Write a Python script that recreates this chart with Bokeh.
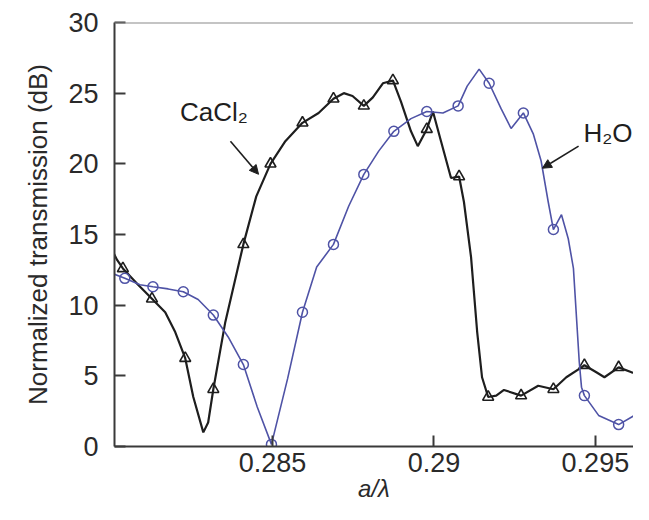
from bokeh.plotting import figure
from bokeh.models import Range1d, FixedTicker, Arrow, NormalHead, Label, Span
from bokeh.embed import file_html
from bokeh.resources import INLINE

# ---------------- data ----------------
# CaCl2 curve (black)
cacl2_x = [0.28009, 0.28019, 0.28037, 0.28084, 0.28127, 0.28168, 0.28199, 0.28230,
           0.28255, 0.28286, 0.28301, 0.28317, 0.28354, 0.28410, 0.28450, 0.28494,
           0.28540, 0.28593, 0.28643, 0.28689, 0.28721, 0.28748, 0.28783, 0.28811,
           0.28842, 0.28873, 0.28898, 0.28929, 0.28950, 0.28978, 0.28997, 0.29022,
           0.29053, 0.29078, 0.29093, 0.29115, 0.29134, 0.29149, 0.29168, 0.29193,
           0.29217, 0.29270, 0.29323, 0.29370, 0.29410, 0.29457, 0.29466, 0.29503,
           0.29528, 0.29572, 0.29612, 0.29659]
cacl2_y = [13.65, 13.2, 12.6, 11.45, 10.45, 9.5, 8.1, 6.25,
           3.5, 1.0, 1.7, 4.05, 8.8, 14.3, 17.7, 20.0,
           21.6, 22.9, 23.6, 24.6, 25.0, 24.8, 24.1, 24.7,
           25.7, 25.9, 24.4, 22.3, 21.25, 22.45, 23.7, 21.6,
           19.0, 19.1, 17.3, 13.4, 8.1, 4.9, 3.5, 3.6,
           4.0, 3.6, 4.3, 4.05, 4.9, 5.6, 5.75, 5.25,
           4.9, 5.6, 5.25, 5.05]
cacl2_mx = [0.28037, 0.28127, 0.28230, 0.28317, 0.28410, 0.28494, 0.28593, 0.28689,
            0.28783, 0.28873, 0.28978, 0.29078, 0.29168, 0.29270, 0.29370, 0.29466,
            0.29572]
cacl2_my = [12.6, 10.45, 6.25, 4.05, 14.3, 20.0, 22.9, 24.6,
            24.1, 25.9, 22.45, 19.1, 3.5, 3.6, 4.05, 5.75,
            5.6]

# H2O curve (blue)
h2o_x = [0.28009, 0.28043, 0.28090, 0.28130, 0.28177, 0.28224, 0.28270, 0.28317,
         0.28363, 0.28410, 0.28453, 0.28497, 0.28547, 0.28593, 0.28637, 0.28689,
         0.28736, 0.28783, 0.28829, 0.28876, 0.28929, 0.28978, 0.29028, 0.29075,
         0.29103, 0.29140, 0.29171, 0.29208, 0.29239, 0.29277, 0.29308, 0.29332,
         0.29354, 0.29370, 0.29395, 0.29416, 0.29432, 0.29450, 0.29457, 0.29466,
         0.29510, 0.29572, 0.29621, 0.29665]
h2o_y = [12.2, 11.9, 11.45, 11.3, 11.15, 10.95, 10.4, 9.3,
         7.75, 5.8, 2.8, 0.15, 4.8, 9.5, 12.7, 14.3,
         17.0, 19.25, 20.9, 22.3, 23.2, 23.7, 23.6, 24.1,
         25.5, 26.7, 25.7, 23.9, 22.5, 23.6, 22.1, 20.2,
         17.3, 15.35, 16.4, 14.7, 12.6, 6.0, 4.2, 3.6,
         2.2, 1.55, 2.2, 3.5]
h2o_mx = [0.28043, 0.28130, 0.28224, 0.28317, 0.28410, 0.28497, 0.28593, 0.28689,
          0.28783, 0.28876, 0.28978, 0.29075, 0.29171, 0.29277, 0.29370, 0.29466,
          0.29572]
h2o_my = [11.9, 11.3, 10.95, 9.3, 5.8, 0.15, 9.5, 14.3,
          19.25, 22.3, 23.7, 24.1, 25.7, 23.6, 15.35, 3.6,
          1.55]

x_ticks = [0.285, 0.29, 0.295]
x_tick_labels = ["0.285", "0.29", "0.295"]
y_ticks = [0, 5, 10, 15, 20, 25, 30]

x_min, x_max = 0.28011, 0.29618
y_min, y_max = 0, 30

x_title = "a/\u03bb"
y_title = "Normalized transmission (dB)"

# annotations: (text, x, y) and arrows (x_start, y_start, x_end, y_end)
cacl2_label = ("CaCl\u2082", 0.28214, 23.7)
cacl2_arrow = (0.28370, 21.6, 0.28457, 19.26)
h2o_label = ("H\u2082O", 0.29463, 22.2)
h2o_arrow = (0.29448, 21.25, 0.29336, 19.69)

# ---------------- styling ----------------
FONT = "Liberation Sans"
BLACK = "#1e1e1e"
BLUE = "#4f53a6"
TXT = "#2a2a2a"

p = figure(width=633, height=504, output_backend="svg", toolbar_location=None,
           x_range=Range1d(x_min, x_max), y_range=Range1d(y_min, y_max),
           min_border_left=114, min_border_right=0, min_border_top=22,
           min_border_bottom=10)
p.outline_line_color = None
p.grid.grid_line_color = None
p.background_fill_color = "white"

# top border
p.add_layout(Span(location=y_max, dimension="width", line_color="#8a8a8a", line_width=2))

for ax in (p.xaxis[0], p.yaxis[0]):
    ax.axis_line_color = "#3a3a3a"
    ax.axis_line_width = 2
    ax.major_tick_line_color = "#3a3a3a"
    ax.major_tick_line_width = 2
    ax.major_tick_in = 11
    ax.major_tick_out = 0
    ax.minor_tick_line_color = None
    ax.major_label_text_font = FONT
    ax.major_label_text_font_size = "27px"
    ax.major_label_text_color = TXT
    ax.axis_label_text_font = FONT
    ax.axis_label_text_font_size = "26px"
    ax.axis_label_text_color = TXT

p.xaxis.ticker = FixedTicker(ticks=x_ticks)
p.xaxis.major_label_overrides = {t: l for t, l in zip(x_ticks, x_tick_labels)}
p.xaxis.major_label_standoff = 6
p.xaxis.axis_label = x_title
p.xaxis.axis_label_text_font_style = "italic"
p.xaxis.axis_label_text_font_size = "24px"
p.xaxis.axis_label_standoff = 0

p.yaxis.ticker = FixedTicker(ticks=y_ticks)
p.yaxis.major_label_standoff = 16
p.yaxis.axis_label = y_title
p.yaxis.axis_label_text_font_style = "normal"
p.yaxis.axis_label_standoff = 12

# curves
p.line(cacl2_x, cacl2_y, line_color=BLACK, line_width=2.2)
p.scatter(cacl2_mx, cacl2_my, marker="triangle", size=11, line_color=BLACK,
          fill_color=None, line_width=1.6)
p.line(h2o_x, h2o_y, line_color=BLUE, line_width=1.6)
p.scatter(h2o_mx, h2o_my, marker="circle", size=10, line_color=BLUE,
          fill_color=None, line_width=1.5)

# annotations
for (txt, tx, ty) in (cacl2_label, h2o_label):
    p.add_layout(Label(x=tx, y=ty, text=txt, text_font=FONT, text_font_size="26px",
                       text_color="#1e1e1e", text_align="left", text_baseline="middle"))
for (xs, ys, xe, ye) in (cacl2_arrow, h2o_arrow):
    p.add_layout(Arrow(x_start=xs, y_start=ys, x_end=xe, y_end=ye,
                       line_color="#1e1e1e", line_width=1.6,
                       end=NormalHead(size=9, fill_color="#1e1e1e",
                                      line_color="#1e1e1e")))

open("out.html", "w").write(file_html(p, INLINE))
